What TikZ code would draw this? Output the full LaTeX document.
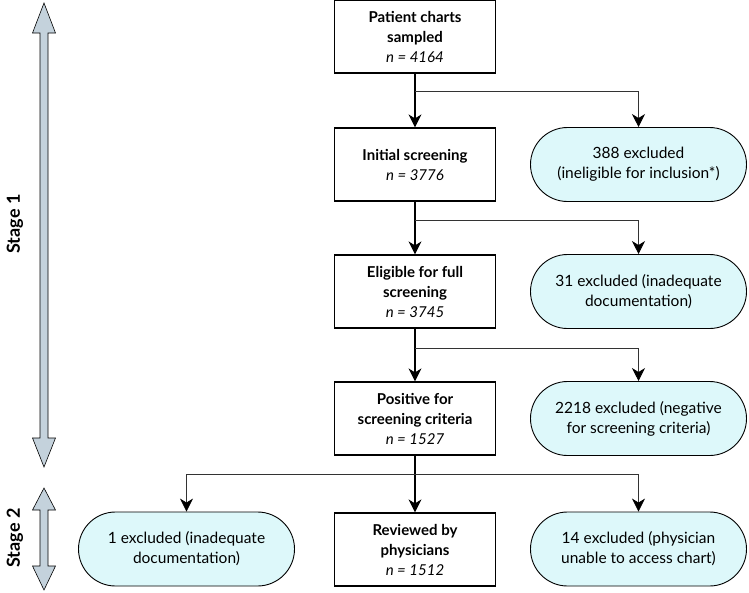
\documentclass[tikz,border=0pt]{standalone}
\usepackage{fontspec}
\setmainfont{Lato}
\usetikzlibrary{shapes.misc,arrows.meta}
\definecolor{exfill}{RGB}{221,248,250}
\definecolor{stagefill}{RGB}{196,210,220}

\begin{document}
\begin{tikzpicture}[x=1pt, y=-1pt,
    stepbox/.style={draw, line width=1.2pt, minimum width=161pt, minimum height=73pt, align=center, inner sep=2pt,
        font=\fontsize{15}{20}\selectfont},
    exbox/.style={draw, rounded rectangle, fill=exfill, line width=0.9pt, minimum width=220pt, minimum height=74pt,
        align=center, inner sep=2pt, font=\fontsize{15.5}{20}\selectfont},
    main/.style={line width=1.3pt, -{Stealth[length=13pt, width=13pt, inset=4pt]}},
    branch/.style={line width=0.8pt, draw=black!80, -{Stealth[length=13pt, width=13pt, inset=4pt, black]}},
    stagearrow/.style={draw, fill=stagefill, line width=0.6pt},
    stagelabel/.style={rotate=90, font=\fontsize{18}{20}\selectfont\bfseries}]

    \useasboundingbox (0,0) rectangle (749,592);

    % Main flow
    \node[stepbox] (sampled) at (415,36.5) {\textbf{Patient charts}\\\textbf{sampled}\\\textit{n = 4164}};
    \node[stepbox] (initial) at (415,164.5) {\textbf{Initial screening}\\\textit{n = 3776}};
    \node[stepbox] (eligible) at (415,291.5) {\textbf{Eligible for full}\\\textbf{screening}\\\textit{n = 3745}};
    \node[stepbox] (positive) at (415,418.5) {\textbf{Positive for}\\\textbf{screening criteria}\\\textit{n = 1527}};
    \node[stepbox] (reviewed) at (415,549.5) {\textbf{Reviewed by}\\\textbf{physicians}\\\textit{n = 1512}};

    % Exclusions
    \node[exbox] (ex388) at (638.5,164.5) {388 excluded\\(ineligible for inclusion*)};
    \node[exbox] (ex31) at (638.5,291.5) {31 excluded (inadequate\\documentation)};
    \node[exbox] (ex2218) at (638.5,418.5) {2218 excluded (negative\\for screening criteria)};
    \node[exbox] (ex1) at (186.5,549) {1 excluded (inadequate\\documentation)};
    \node[exbox] (ex14) at (638.5,549) {14 excluded (physician\\unable to access chart)};

    % Branch points
    \coordinate (b1) at (415,91);
    \coordinate (b2) at (415,220);
    \coordinate (b3) at (415,348);
    \coordinate (b4) at (415,474);

    \draw[main] (sampled) -- (initial);
    \draw[main] (initial) -- (eligible);
    \draw[main] (eligible) -- (positive);
    \draw[main] (positive) -- (reviewed);
    \draw[branch] (b1) -| (ex388);
    \draw[branch] (b2) -| (ex31);
    \draw[branch] (b3) -| (ex2218);
    \draw[branch] (b4) -| (ex1);
    \draw[branch] (b4) -| (ex14);

    % Stage 1
    \draw[stagearrow] (44,3) -- (55.5,33) -- (48,33) -- (48,438) -- (55.5,438) -- (44,467)
        -- (32.5,438) -- (40,438) -- (40,33) -- (32.5,33) -- cycle;
    \node[stagelabel] (stage1) at (15,224) {Stage 1};

    % Stage 2
    \draw[stagearrow] (44,488) -- (55.5,510) -- (48,510) -- (48,566) -- (55.5,566) -- (44,590)
        -- (32.5,566) -- (40,566) -- (40,510) -- (32.5,510) -- cycle;
    \node[stagelabel] (stage2) at (15,538) {Stage 2};
\end{tikzpicture}
\end{document}
